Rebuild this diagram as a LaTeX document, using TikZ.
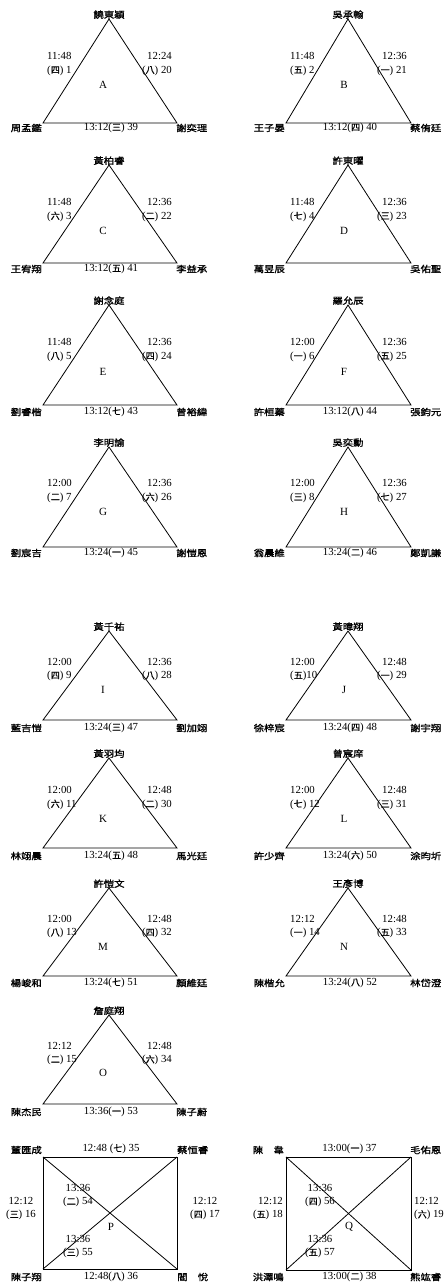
\documentclass[tikz,border=0pt]{standalone}
\usepackage{fontspec}
\setmainfont{Liberation Serif}
\newfontfamily\cjkb[FakeStretch=1.15,FakeBold=1.5]{Noto Sans CJK TC}
\newfontfamily\cjkn[FakeBold=0.8]{Noto Sans CJK TC}
\newcommand\cn[1]{{\cjkn\fontsize{9}{10}\selectfont #1}}
\tikzset{
 edge/.style={line width=0.8pt},
 pname/.style={inner sep=0pt, font=\cjkb\fontsize{9}{10}\selectfont},
 lbl/.style={inner sep=0pt, font=\fontsize{10.8}{13.5}\selectfont},
 letter/.style={inner sep=0pt, font=\fontsize{11}{12}\selectfont},
}
\newcommand\setrow[5]{\def\tAy{#1}\def\tBy{#2}\def\tSy{#3}\def\tLy{#4}\def\tNy{#5}}
\newcommand\tri[8]{%
 \ifx L#2\def\tAx{109}\def\tLx{43}\def\tRx{177}\def\tLLx{47}\def\tRLx{172}\def\tCx{103}\def\tBx{111}%
 \else\def\tAx{348}\def\tLx{286}\def\tRx{411}\def\tLLx{290}\def\tRLx{407}\def\tCx{344}\def\tBx{350}\fi
 \coordinate (#1-t) at (\tAx,\tAy);
 \coordinate (#1-l) at (\tLx,\tBy);
 \coordinate (#1-r) at (\tRx,\tBy);
 \draw[edge] (#1-t) -- (#1-l) -- (#1-r) -- cycle;
 \node[pname,anchor=south] (#1-tn) at (#1-t) {#3};
 \node[pname,anchor=east] (#1-ln) at (\tLx-1,\tNy) {#4};
 \node[pname,anchor=west] (#1-rn) at (\tRx-1,\tNy) {#5};
 \node[lbl,anchor=west,align=left] (#1-ls) at (\tLLx,\tSy) {#6};
 \node[lbl,anchor=east,align=right] (#1-rs) at (\tRLx,\tSy) {#7};
 \if\relax\detokenize{#8}\relax\else\node[lbl] (#1-b) at (\tBx,\tNy) {#8};\fi
 \node[letter] (#1-c) at (\tCx,\tLy) {#1};
}
\begin{document}
\begin{tikzpicture}[x=1pt,y=-1pt]
\useasboundingbox (0,0) rectangle (446,1286);
% row 1
\setrow{19}{123}{64}{85}{128}
\tri{A}{L}{饒東穎}{周孟鑑}{謝奕理}{11:48\\(\cn{四}) 1}{12:24\\(\cn{八}) 20}{13:12(\cn{三}) 39}
\tri{B}{R}{吳承翰}{王子晏}{蔡侑廷}{11:48\\(\cn{五}) 2}{12:36\\(\cn{一}) 21}{13:12(\cn{四}) 40}
% row 2
\setrow{165}{263}{210}{231}{269}
\tri{C}{L}{黃柏睿}{王宥翔}{李益承}{11:48\\(\cn{六}) 3}{12:36\\(\cn{二}) 22}{13:12(\cn{五}) 41}
\tri{D}{R}{許東曜}{萬昱辰}{吳佑聖}{11:48\\(\cn{七}) 4}{12:36\\(\cn{三}) 23}{}
% row 3
\setrow{305}{405}{350}{372}{412}
\tri{E}{L}{謝念庭}{劉睿楷}{曾裕緯}{11:48\\(\cn{八}) 5}{12:36\\(\cn{四}) 24}{13:12(\cn{七}) 43}
\tri{F}{R}{羅允辰}{許桓蓁}{張鈞元}{12:00\\(\cn{一}) 6}{12:36\\(\cn{五}) 25}{13:12(\cn{八}) 44}
% row 4
\setrow{447}{547}{491}{512}{553}
\tri{G}{L}{李明諭}{劉宸吉}{謝愷恩}{12:00\\(\cn{二}) 7}{12:36\\(\cn{六}) 26}{13:24(\cn{一}) 45}
\tri{H}{R}{吳奕勳}{翁晨維}{鄭凱謙}{12:00\\(\cn{三}) 8}{12:36\\(\cn{七}) 27}{13:24(\cn{二}) 46}
% row 5
\setrow{631}{720}{669.5}{690}{728}
\tri{I}{L}{黃千祐}{藍吉愷}{劉加翊}{12:00\\(\cn{四}) 9}{12:36\\(\cn{八}) 28}{13:24(\cn{三}) 47}
\tri{J}{R}{黃暐翔}{徐梓宸}{謝宇翔}{12:00\\(\cn{五})10}{12:48\\(\cn{一}) 29}{13:24(\cn{四}) 48}
% row 6
\setrow{758}{848}{798}{819}{856}
\tri{K}{L}{黃羽均}{林翊晨}{馬光廷}{12:00\\(\cn{六}) 11}{12:48\\(\cn{二}) 30}{13:24(\cn{五}) 48}
\tri{L}{R}{曾宸庠}{許少齊}{涂昀圻}{12:00\\(\cn{七}) 12}{12:48\\(\cn{三}) 31}{13:24(\cn{六}) 50}
% row 7
\setrow{888}{976}{926.5}{947}{983}
\tri{M}{L}{許愷文}{楊峻和}{顏維廷}{12:00\\(\cn{八}) 13}{12:48\\(\cn{四}) 32}{13:24(\cn{七}) 51}
\tri{N}{R}{王彥博}{陳楷允}{林岱澄}{12:12\\(\cn{一}) 14}{12:48\\(\cn{五}) 33}{13:24(\cn{八}) 52}
% row 8
\setrow{1015}{1104}{1053.5}{1073}{1112}
\tri{O}{L}{詹庭翔}{陳杰民}{陳子蔚}{12:12\\(\cn{二}) 15}{12:48\\(\cn{六}) 34}{13:36(\cn{一}) 53}
% box P
\coordinate (P-tl) at (43,1157);
\coordinate (P-tr) at (177,1157);
\coordinate (P-br) at (177,1269);
\coordinate (P-bl) at (43,1269);
\draw[edge] (P-tl) -- (P-tr) -- (P-br) -- (P-bl) -- cycle;
\draw[edge] (P-tl) -- (P-br);
\draw[edge] (P-tr) -- (P-bl);
\node[pname,anchor=east] (P-n1) at (42,1150) {董匯成};
\node[pname,anchor=west] (P-n2) at (177,1150) {蔡恒睿};
\node[pname,anchor=east] (P-n3) at (42,1277) {陳子翔};
\node[pname,anchor=west] (P-n4) at (177,1277) {閻　悅};
\node[lbl] (P-top) at (111,1149) {12:48 (\cn{七}) 35};
\node[lbl] (P-bot) at (111,1277) {12:48(\cn{八}) 36};
\node[lbl,align=center] (P-left) at (21,1208.5) {12:12\\(\cn{三}) 16};
\node[lbl,align=center] (P-right) at (205,1208.5) {12:12\\(\cn{四}) 17};
\node[lbl,align=center] (P-d1) at (78,1195.5) {13:36\\(\cn{二}) 54};
\node[lbl,align=center] (P-d2) at (78,1246.5) {13:36\\(\cn{三}) 55};
\node[letter] (P-c) at (111,1227) {P};
% box Q
\coordinate (Q-tl) at (286,1157);
\coordinate (Q-tr) at (411,1157);
\coordinate (Q-br) at (411,1270);
\coordinate (Q-bl) at (286,1270);
\draw[edge] (Q-tl) -- (Q-tr) -- (Q-br) -- (Q-bl) -- cycle;
\draw[edge] (Q-tl) -- (Q-br);
\draw[edge] (Q-tr) -- (Q-bl);
\node[pname,anchor=east] (Q-n1) at (284,1150) {陳　韋};
\node[pname,anchor=west] (Q-n2) at (410,1150) {毛佑恩};
\node[pname,anchor=east] (Q-n3) at (284,1277) {洪澤鳴};
\node[pname,anchor=west] (Q-n4) at (410,1277) {熊竑睿};
\node[lbl] (Q-top) at (349.5,1149) {13:00(\cn{一}) 37};
\node[lbl] (Q-bot) at (349.5,1277) {13:00(\cn{二}) 38};
\node[lbl,anchor=east,align=right] (Q-left) at (283,1208.5) {12:12\\(\cn{五}) 18};
\node[lbl,anchor=west,align=left] (Q-right) at (414,1208.5) {12:12\\(\cn{六}) 19};
\node[lbl,align=center] (Q-d1) at (320,1195.5) {13:36\\(\cn{四}) 56};
\node[lbl,align=center] (Q-d2) at (320,1246.5) {13:36\\(\cn{五}) 57};
\node[letter] (Q-c) at (349,1227) {Q};
\end{tikzpicture}
\end{document}
